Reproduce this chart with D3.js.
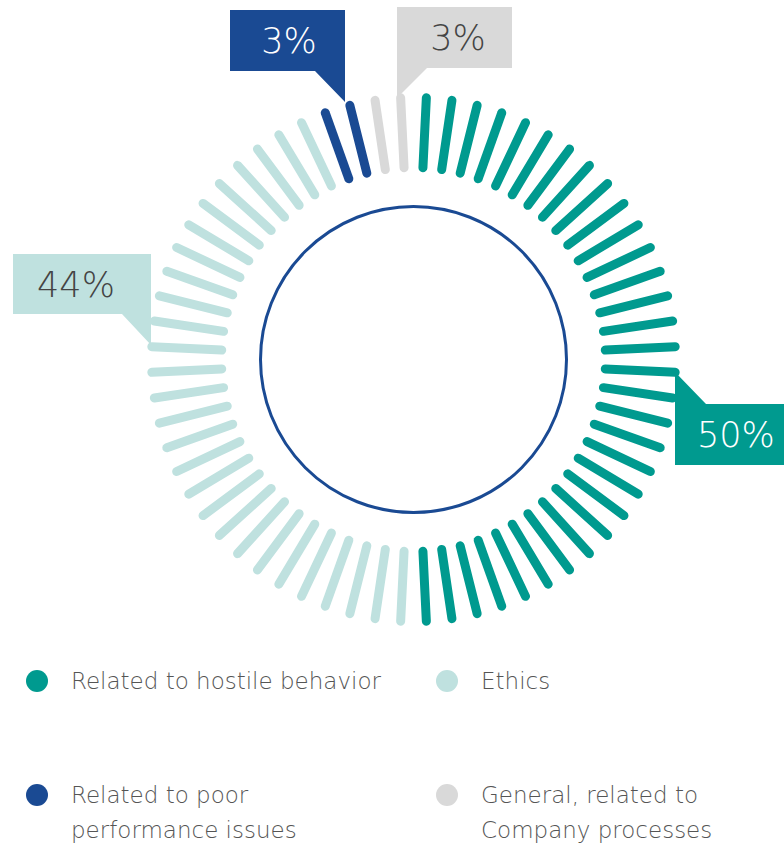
<!DOCTYPE html>
<html>
<head>
<meta charset="utf-8">
<script src="https://cdn.jsdelivr.net/npm/d3@7"></script>
<style>
  body { margin: 0; background: #fff; }
  svg { display: block; font-family: "DejaVu Sans", "Lato", sans-serif; }
</style>
</head>
<body>
<svg id="chart" width="784" height="844"></svg>
<script>
// data
const categories = ["Related to hostile behavior", "Ethics", "Related to poor performance issues", "General, related to Company processes"];
const shares = [50, 44, 3, 3];
const tickCounts = [32, 28, 2, 2];
const colors = ["#009a8f", "#bfe1df", "#1a4a93", "#d9d9d9"];
const labelColors = ["#ffffff", "#444444", "#ffffff", "#444444"];
const legendLines = [["Related to hostile behavior"], ["Ethics"], ["Related to poor", "performance issues"], ["General, related to", "Company processes"]];

const svg = d3.select("#chart");
const cx = 413.5, cy = 359.5;
const rIn = 192, rOut = 262;

// one tick per slot, in category order clockwise from top
const ticks = [];
tickCounts.forEach((n, c) => { for (let k = 0; k < n; k++) ticks.push({cat: c}); });
const total = ticks.length;
const angle = d3.scaleLinear().domain([0, total]).range([0, 2 * Math.PI]);

const g = svg.append("g").attr("transform", `translate(${cx},${cy})`);

g.selectAll("line.tick")
  .data(ticks)
  .join("line")
  .attr("class", "tick")
  .attr("x1", (d, i) => rIn * Math.sin(angle(i + 0.5)))
  .attr("y1", (d, i) => -rIn * Math.cos(angle(i + 0.5)))
  .attr("x2", (d, i) => rOut * Math.sin(angle(i + 0.5)))
  .attr("y2", (d, i) => -rOut * Math.cos(angle(i + 0.5)))
  .attr("stroke", d => colors[d.cat])
  .attr("stroke-width", 9)
  .attr("stroke-linecap", "round");

g.append("circle")
  .attr("r", 153)
  .attr("fill", "none")
  .attr("stroke", "#1a4a93")
  .attr("stroke-width", 3);

// callout boxes (absolute page coords)
const callouts = [
  {cat: 0, pts: [[675,372],[706,404],[790,404],[790,465],[675,465]], tx: 697, ty: 447, anchor: "start"},
  {cat: 1, pts: [[13,254],[151,254],[151,345],[122,314],[13,314]], tx: 76, ty: 297, anchor: "middle"},
  {cat: 2, pts: [[230,10],[345,10],[345,102],[315,71],[230,71]], tx: 289, ty: 53, anchor: "middle"},
  {cat: 3, pts: [[397,7],[512,7],[512,68],[427,68],[397,98]], tx: 458, ty: 50, anchor: "middle"}
];

const cg = svg.selectAll("g.callout")
  .data(callouts)
  .join("g")
  .attr("class", "callout");

cg.append("polygon")
  .attr("points", d => d.pts.map(p => p.join(",")).join(" "))
  .attr("fill", d => colors[d.cat]);

cg.append("text")
  .attr("x", d => d.tx)
  .attr("y", d => d.ty)
  .attr("text-anchor", d => d.anchor)
  .attr("font-size", 35)
  .attr("font-weight", 200)
  .attr("fill", d => labelColors[d.cat])
  .text(d => shares[d.cat] + "%");

// legend
const legendPos = [{x: 37, y: 681}, {x: 447, y: 681}, {x: 37, y: 795}, {x: 447, y: 795}];

const lg = svg.selectAll("g.legend")
  .data(categories)
  .join("g")
  .attr("class", "legend")
  .attr("transform", (d, i) => `translate(${legendPos[i].x},${legendPos[i].y})`);

lg.append("circle")
  .attr("r", 11)
  .attr("fill", (d, i) => colors[i]);

lg.append("text")
  .attr("x", 34)
  .attr("y", 8)
  .attr("font-size", 23)
  .attr("font-weight", 200)
  .attr("fill", "#555")
  .selectAll("tspan")
  .data((d, i) => legendLines[i])
  .join("tspan")
  .attr("x", 34)
  .attr("dy", (d, j) => j ? 35 : 0)
  .text(d => d);
</script>
</body>
</html>
